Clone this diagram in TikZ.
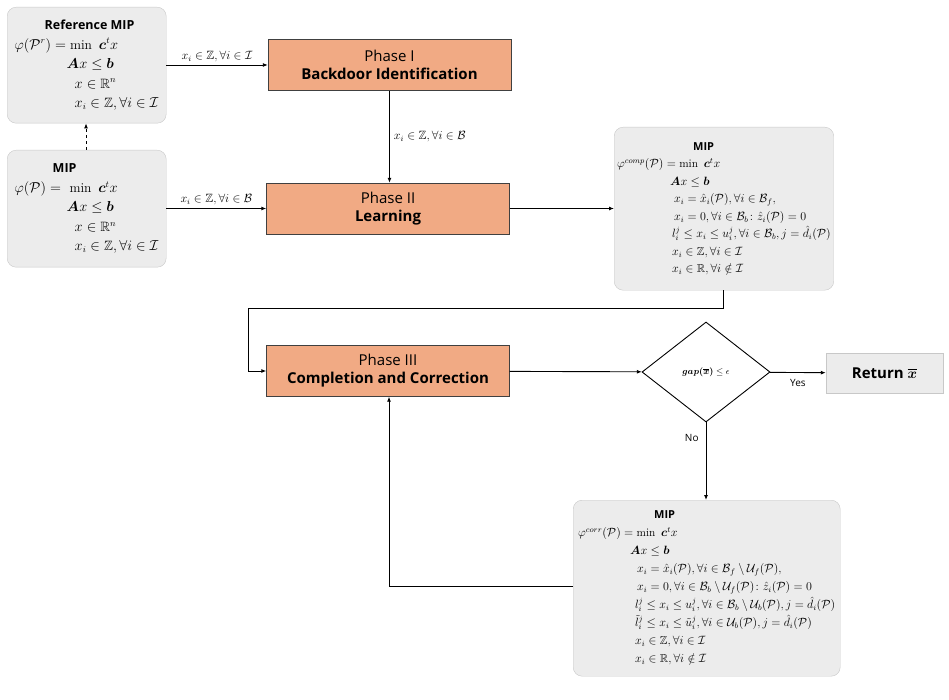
\documentclass[tikz,border=0pt]{standalone}
\usepackage{amsmath,amssymb}
\usepackage{fontspec}
\setsansfont{Open Sans}
\usetikzlibrary{shapes.geometric,arrows.meta}
\definecolor{phasefill}{RGB}{241,170,132}
\definecolor{boxfill}{RGB}{236,236,236}
\definecolor{boxline}{RGB}{200,200,200}
\begin{document}
\begin{tikzpicture}[x=1pt,y=-1pt]
        \tikzstyle{mip}=[rectangle, rounded corners=9pt, fill=boxfill, draw=boxline, inner xsep=5pt, inner ysep=3pt, anchor=north west, align=left]
        \tikzstyle{phase}=[rectangle, fill=phasefill, draw=black!75, minimum width=243pt, minimum height=51pt, font=\sffamily\fontsize{15}{18}\selectfont, align=center]
        \tikzstyle{edge}=[black, line width=0.9pt, -{Latex[length=5pt,width=4pt]}]
        \tikzstyle{lbl}=[font=\fontsize{12}{14}\selectfont, inner sep=1pt]
        \useasboundingbox (0,0) rectangle (949,700);

        \node[mip, font=\fontsize{13.5}{19.5}\selectfont, minimum width=159pt, minimum height=116pt] (ref) at (7,7) {\hspace*{30pt}{\sffamily\bfseries\fontsize{12.5}{14}\selectfont Reference MIP}\\
            $\varphi(\mathcal{P}^r) = \min\ \boldsymbol{c}^t x$\\
            \hspace*{52pt}$\boldsymbol{A}x \le \boldsymbol{b}$\\
            \hspace*{60pt}$x \in \mathbb{R}^n$\\
            \hspace*{60pt}$x_i \in \mathbb{Z}, \forall i \in \mathcal{I}$};
        \node[mip, font=\fontsize{13.5}{19.5}\selectfont, minimum width=159pt, minimum height=117pt] (mip) at (7,150) {\hspace*{38pt}{\sffamily\bfseries\fontsize{12.5}{14}\selectfont MIP}\\
            $\varphi(\mathcal{P}) = \ \min\ \boldsymbol{c}^t x$\\
            \hspace*{52pt}$\boldsymbol{A}x \le \boldsymbol{b}$\\
            \hspace*{60pt}$x \in \mathbb{R}^n$\\
            \hspace*{60pt}$x_i \in \mathbb{Z}, \forall i \in \mathcal{I}$};

        \node[phase] (p1) at (389.5,65) {Phase I\\\bfseries Backdoor Identification};
        \node[phase] (p2) at (388,208.5) {Phase II\\\bfseries Learning};
        \node[phase] (p3) at (388,371) {Phase III\\\bfseries Completion and Correction};

        \node[mip, font=\fontsize{11.5}{17.5}\selectfont, minimum width=218pt, minimum height=163pt, inner xsep=3pt] (comp) at (614,127) {\hspace*{76pt}{\sffamily\bfseries\fontsize{11}{13}\selectfont MIP}\\
            $\varphi^{comp}(\mathcal{P}) = \min\ \boldsymbol{c}^t x$\\
            \hspace*{53pt}$\boldsymbol{A}x \le \boldsymbol{b}$\\
            \hspace*{57pt}$x_i = \hat{x}_i(\mathcal{P}), \forall i \in \mathcal{B}_f,$\\
            \hspace*{57pt}$x_i = 0, \forall i \in \mathcal{B}_b\colon \hat{z}_i(\mathcal{P}) = 0$\\
            \hspace*{55pt}$l_i^j \le x_i \le u_i^j, \forall i \in \mathcal{B}_b, j = \hat{d}_i(\mathcal{P})$\\
            \hspace*{55pt}$x_i \in \mathbb{Z}, \forall i \in \mathcal{I}$\\
            \hspace*{55pt}$x_i \in \mathbb{R}, \forall i \notin \mathcal{I}$};

        \node[diamond, draw=black, line width=0.9pt, minimum width=128pt, minimum height=100pt, inner sep=0pt, font=\fontsize{9}{10}\selectfont] (gap) at (706,372) {$\boldsymbol{gap(\overline{x})} \le \epsilon$};
        \node[rectangle, fill=boxfill, draw=boxline, minimum width=117pt, minimum height=40pt, font=\sffamily\bfseries\fontsize{15}{18}\selectfont] (ret) at (884.5,373) {Return $\overline{\boldsymbol{x}}$};

        \node[mip, font=\fontsize{11.5}{18}\selectfont, minimum width=267pt, minimum height=176pt, inner xsep=3pt] (corr) at (573,500) {\hspace*{76pt}{\sffamily\bfseries\fontsize{11}{13}\selectfont MIP}\\
            $\varphi^{corr}(\mathcal{P}) = \min\ \boldsymbol{c}^t x$\\
            \hspace*{52pt}$\boldsymbol{A}x \le \boldsymbol{b}$\\
            \hspace*{59pt}$x_i = \hat{x}_i(\mathcal{P}), \forall i \in \mathcal{B}_f \setminus \mathcal{U}_f(\mathcal{P}),$\\
            \hspace*{59pt}$x_i = 0, \forall i \in \mathcal{B}_b \setminus \mathcal{U}_f(\mathcal{P})\colon \hat{z}_i(\mathcal{P}) = 0$\\
            \hspace*{57pt}$l_i^j \le x_i \le u_i^j, \forall i \in \mathcal{B}_b \setminus \mathcal{U}_b(\mathcal{P}), j = \hat{d}_i(\mathcal{P})$\\
            \hspace*{57pt}$\tilde{l}_i^j \le x_i \le \tilde{u}_i^j, \forall i \in \mathcal{U}_b(\mathcal{P}), j = \hat{d}_i(\mathcal{P})$\\
            \hspace*{57pt}$x_i \in \mathbb{Z}, \forall i \in \mathcal{I}$\\
            \hspace*{57pt}$x_i \in \mathbb{R}, \forall i \notin \mathcal{I}$};

        \coordinate (c1) at (723,308);
        \coordinate (c2) at (248,308);
        \coordinate (c3) at (389,586);

        \draw[edge] (ref.east |- p1) -- node[lbl, above=2pt] {$x_i \in \mathbb{Z}, \forall i \in \mathcal{I}$} (p1);
        \draw[edge] (mip.east |- p2) -- node[lbl, above=2pt] {$x_i \in \mathbb{Z}, \forall i \in \mathcal{B}$} (p2);
        \draw[edge] (p1.south) -- node[lbl, right=3pt] {$x_i \in \mathbb{Z}, \forall i \in \mathcal{B}$} (p1.south |- p2.north);
        \draw[edge, dashed] (mip.north -| 86,0) -- (ref.south -| 86,0);
        \draw[edge] (p2) -- (comp.west |- p2);
        \draw[edge] (comp.south -| c1) -- (c1) -- (c2) |- (p3);
        \draw[edge] (p3) -- (gap);
        \draw[edge] (gap) -- node[lbl, below=5pt, font=\sffamily\fontsize{10}{12}\selectfont] {Yes} (ret);
        \draw[edge] (gap) -- node[lbl, left=6pt, pos=0.2, font=\sffamily\fontsize{10}{12}\selectfont] {No} (gap.south |- corr.north);
        \draw[edge] (corr.west |- c3) -- (c3) -- (p3.south -| c3);
\end{tikzpicture}
\end{document}
